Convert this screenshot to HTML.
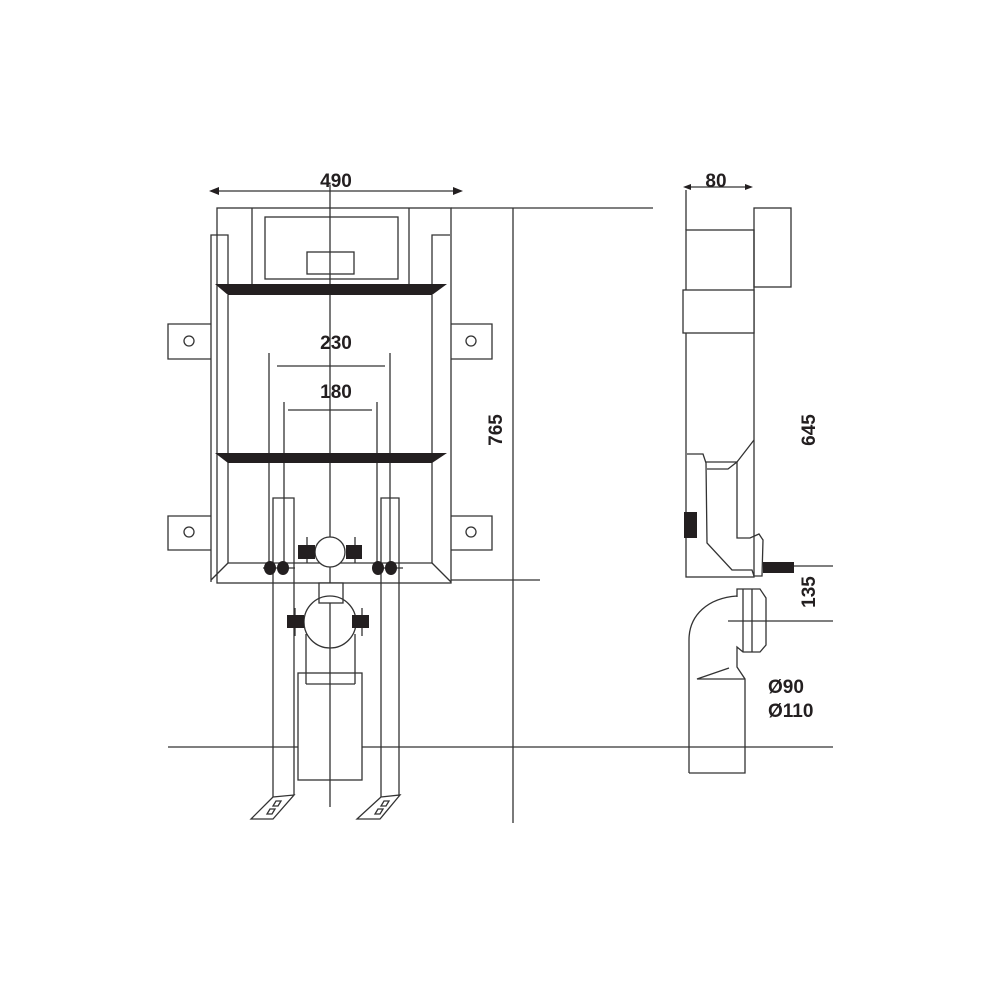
<!DOCTYPE html>
<html><head><meta charset="utf-8"><style>
html,body{margin:0;padding:0;background:#fff;}
svg{display:block}
text{font-family:"Liberation Sans",sans-serif;font-weight:bold;fill:#231f20;}
</style></head><body>
<svg width="1000" height="1000" viewBox="0 0 1000 1000" xmlns="http://www.w3.org/2000/svg">
<g fill="none" stroke="#333" stroke-width="1.3">
<!-- dimension 490 -->
<line x1="212" y1="191" x2="460" y2="191"/>
<!-- centre line -->
<line x1="330" y1="185" x2="330" y2="807"/>
<!-- frame -->
<rect x="217" y="208" width="234" height="375"/>
<line x1="252" y1="208" x2="252" y2="284"/>
<line x1="409" y1="208" x2="409" y2="284"/>
<rect x="265" y="217" width="133" height="62"/>
<rect x="307" y="252" width="47" height="22"/>
<polyline points="228,284 228,235 211,235 211,582"/>
<polyline points="432,284 432,235 450,235"/>
<line x1="228" y1="295" x2="228" y2="563"/>
<line x1="432" y1="295" x2="432" y2="563"/>
<line x1="228" y1="563" x2="432" y2="563"/>
<line x1="228" y1="563" x2="211" y2="580"/>
<line x1="432" y1="563" x2="451" y2="582"/>
<!-- tabs -->
<polyline points="211,324 168,324 168,359 211,359"/>
<polyline points="211,516 168,516 168,550 211,550"/>
<polyline points="451,324 492,324 492,359 451,359"/>
<polyline points="451,516 492,516 492,550 451,550"/>
<circle cx="189" cy="341" r="5"/><circle cx="189" cy="532" r="5"/>
<circle cx="471" cy="341" r="5"/><circle cx="471" cy="532" r="5"/>
<!-- 230 / 180 dims -->
<line x1="269" y1="353" x2="269" y2="570"/>
<line x1="390" y1="353" x2="390" y2="570"/>
<line x1="277" y1="366" x2="385" y2="366"/>
<line x1="284" y1="402" x2="284" y2="570"/>
<line x1="377" y1="402" x2="377" y2="570"/>
<line x1="288" y1="410" x2="372" y2="410"/>
<!-- legs -->
<polyline points="273,797 273,498 294,498 294,795"/>
<polyline points="381,797 381,498 399,498 399,795"/>
<polygon points="273,797 294,795 273,819 251,819"/>
<polygon points="381,797 400,795 380,819 357,819"/>
<polygon points="276,801 281,801 278,806 273,806"/>
<polygon points="270,809 275,809 272,814 267,814"/>
<polygon points="384,801 389,801 386,806 381,806"/>
<polygon points="378,809 383,809 380,814 375,814"/>
<!-- connectors -->
<circle cx="330" cy="552" r="15" fill="#fff"/>
<line x1="307" y1="537" x2="307" y2="563"/><line x1="355" y1="537" x2="355" y2="563"/>
<line x1="263" y1="568" x2="295" y2="568"/><line x1="372" y1="568" x2="403" y2="568"/>
<rect x="319" y="583" width="24" height="20" fill="#fff"/>
<circle cx="330" cy="622" r="26"/>
<line x1="295" y1="608" x2="295" y2="636"/><line x1="362" y1="608" x2="362" y2="636"/>
<line x1="306" y1="634" x2="306" y2="684"/><line x1="355" y1="634" x2="355" y2="684"/>
<line x1="306" y1="684" x2="355" y2="684"/>
<rect x="298" y="673" width="64" height="107"/>
<!-- floor & right dims -->
<line x1="168" y1="747" x2="298" y2="747"/>
<line x1="362" y1="747" x2="833" y2="747"/>
<line x1="513" y1="208" x2="513" y2="823"/>
<line x1="451" y1="208" x2="653" y2="208"/>
<line x1="451" y1="580" x2="540" y2="580"/>
<!-- side view -->
<line x1="686" y1="187" x2="750" y2="187"/>
<line x1="686" y1="190" x2="686" y2="230"/>
<rect x="754" y="208" width="37" height="79"/>
<rect x="686" y="230" width="68" height="347"/>
<rect x="683" y="290" width="71" height="43" fill="#fff"/>
<polyline points="687,454 703,454 706,463 707,543 732,570 752,570 754,576"/>
<polyline points="706,462 737,462 754,440"/>
<polyline points="707,469 728,469 737,462 737,538 750,538 759,534 763,540 762,576 754,576"/>
<line x1="794" y1="566" x2="833" y2="566"/>
<line x1="728" y1="621" x2="833" y2="621"/>
<path d="M689,773 L689,640 C689,615 708,598 737,596"/>
<polyline points="689,773 745,773 745,679 737,667 737,647 743,652 760,652 766,645 766,598 760,589 737,589 737,597"/>
<line x1="743" y1="589" x2="743" y2="652"/><line x1="752" y1="589" x2="752" y2="652"/>
<polyline points="729,668 697,679 745,679"/>
</g>
<g fill="#231f20" stroke="none">
<polygon points="209,191 219,187 219,195"/>
<polygon points="463,191 453,187 453,195"/>
<polygon points="683,187 691,184 691,190"/>
<polygon points="753,187 745,184 745,190"/>
<polygon points="215,284 447,284 432,295 228,295"/>
<polygon points="215,453 447,453 432,463 228,463"/>
<ellipse cx="270" cy="568" rx="6" ry="7"/><ellipse cx="283" cy="568" rx="6" ry="7"/>
<ellipse cx="378" cy="568" rx="6" ry="7"/><ellipse cx="391" cy="568" rx="6" ry="7"/>
<rect x="298" y="545" width="17" height="14"/><rect x="346" y="545" width="16" height="14"/>
<rect x="287" y="615" width="17" height="13"/><rect x="352" y="615" width="17" height="13"/>
<rect x="684" y="512" width="13" height="26"/>
<rect x="763" y="562" width="31" height="11"/>
</g>
<text x="336" y="187" font-size="19" text-anchor="middle">490</text>
<text x="336" y="349" font-size="19" text-anchor="middle">230</text>
<text x="336" y="398" font-size="19" text-anchor="middle">180</text>
<text x="716" y="187" font-size="19" text-anchor="middle">80</text>
<text transform="translate(502,430) rotate(-90)" font-size="19" text-anchor="middle">765</text>
<text transform="translate(815,430) rotate(-90)" font-size="19" text-anchor="middle">645</text>
<text transform="translate(815,592) rotate(-90)" font-size="19" text-anchor="middle">135</text>
<text x="768" y="693" font-size="19">Ø90</text>
<text x="768" y="717" font-size="19">Ø110</text>
</svg>
</body></html>
